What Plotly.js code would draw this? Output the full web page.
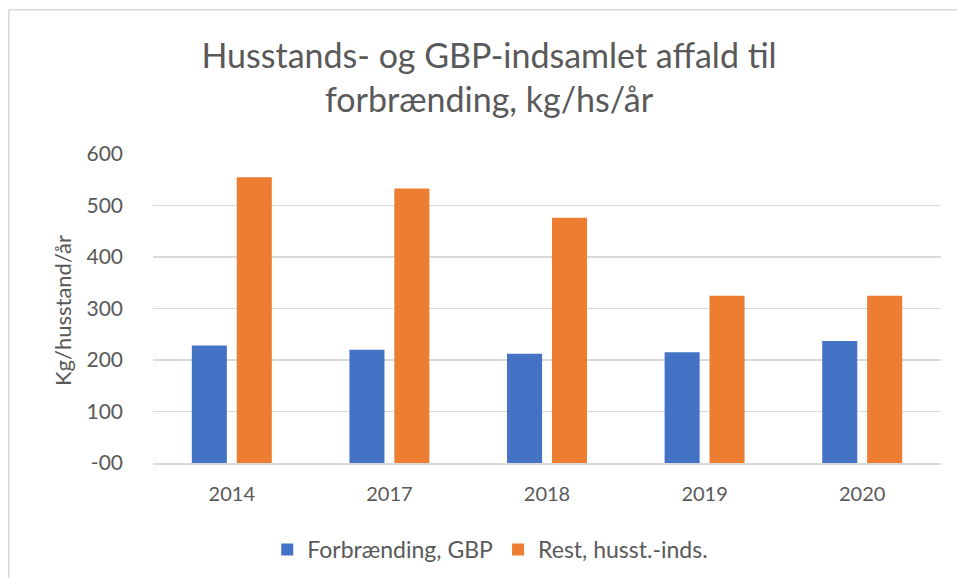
<!DOCTYPE html>
<html>
<head>
<meta charset="utf-8">
<script src="https://cdn.plot.ly/plotly-3.0.1.min.js"></script>
<style>html,body{margin:0;padding:0;background:#fff;}#chart{width:957px;height:578px;}</style>
</head>
<body>
<div id="chart"></div>
<script>
const years = ["2014", "2017", "2018", "2019", "2020"];
const forbraending = [228, 220, 212, 215, 237];
const rest = [555, 533, 476, 325, 325];
const seriesNames = ["Forbrænding, GBP", "Rest, husst.-inds."];
const yTickVals = [0, 100, 200, 300, 400, 500, 600];
const yTickText = ["-00", "100", "200", "300", "400", "500", "600"];

const font = "Lato, 'Open Sans', sans-serif";
const data = [
  {type: "bar", x: years, y: forbraending, name: seriesNames[0], marker: {color: "#4472C4"}},
  {type: "bar", x: years, y: rest, name: seriesNames[1], marker: {color: "#ED7D31"}}
];
const layout = {
  width: 957, height: 578,
  margin: {l: 153, r: 16, t: 154, b: 115, autoexpand: false},
  paper_bgcolor: "#fff", plot_bgcolor: "#fff",
  barmode: "group", bargap: 0.43, bargroupgap: 0.22,
  font: {family: font, color: "#595959"},
  title: {text: "Husstands- og GBP-indsamlet affald til<br>forbrænding, kg/hs/år",
          font: {family: font, size: 34, color: "#595959"},
          x: 0.511, xanchor: "center", y: 0.882, yanchor: "middle", xref: "container", yref: "container"},
  xaxis: {type: "category", showgrid: false, showline: true, linecolor: "#d9d9d9", linewidth: 1.5,
          ticks: "", tickfont: {size: 20, color: "#595959"}, ticklabelstandoff: 12},
  yaxis: {range: [0, 600], tickvals: yTickVals, ticktext: yTickText, showgrid: true,
          gridcolor: "#d9d9d9", gridwidth: 1.5, zeroline: false, showline: false, ticks: "",
          tickfont: {size: 21, color: "#595959"}, ticklabelstandoff: 29},
  annotations: [
    {text: "Kg/husstand/år", xref: "paper", yref: "paper", x: -0.1155, y: 0.495,
     xanchor: "center", yanchor: "middle", textangle: -90, showarrow: false,
     font: {family: font, size: 22, color: "#595959"}}
  ],
  legend: {orientation: "h", x: 0.428, xanchor: "center", y: -0.28, yanchor: "middle",
           font: {size: 23, color: "#595959"}, itemwidth: 30, tracegroupgap: 0},
  shapes: [
    {type: "line", xref: "paper", yref: "paper", x0: -0.183, x1: 1.1, y0: 1.467, y1: 1.467,
     line: {color: "#d9d9d9", width: 1.5}},
    {type: "line", xref: "paper", yref: "paper", x0: -0.183, x1: -0.183, y0: 1.467, y1: -0.4,
     line: {color: "#d9d9d9", width: 1.5}}
  ]
};
Plotly.newPlot("chart", data, layout, {displayModeBar: false, staticPlot: true});
</script>
</body>
</html>
